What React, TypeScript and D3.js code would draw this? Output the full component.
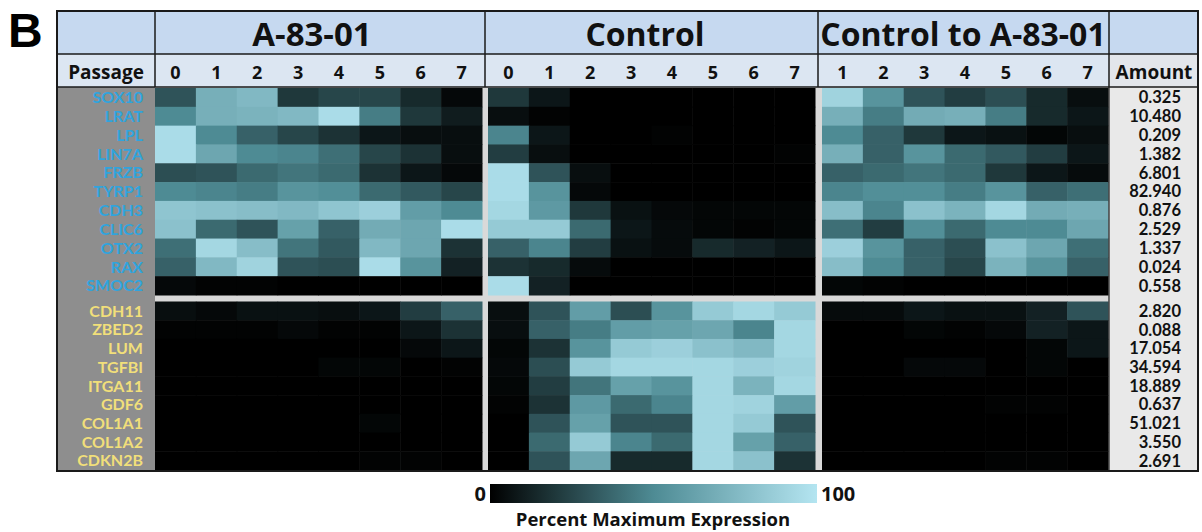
import React, { useEffect, useRef } from "react";
import * as d3 from "d3";

const passagesA = ["0", "1", "2", "3", "4", "5", "6", "7"];
const passagesC = ["0", "1", "2", "3", "4", "5", "6", "7"];
const passagesCA = ["1", "2", "3", "4", "5", "6", "7"];

const topGenes = ["SOX10", "LRAT", "LPL", "LIN7A", "FRZB", "TYRP1", "CDH3", "CLIC6", "OTX2", "RAX", "SMOC2"];
const bottomGenes = ["CDH11", "ZBED2", "LUM", "TGFBI", "ITGA11", "GDF6", "COL1A1", "COL1A2", "CDKN2B"];

const amountsTop = ["0.325", "10.480", "0.209", "1.382", "6.801", "82.940", "0.876", "2.529", "1.337", "0.024", "0.558"];
const amountsBottom = ["2.820", "0.088", "17.054", "34.594", "18.889", "0.637", "51.021", "3.550", "2.691"];

// percent maximum expression
const a8301Top = [
  [30, 70, 75, 20, 25, 25, 15, 3],
  [50, 70, 72, 75, 95, 45, 20, 10],
  [95, 50, 35, 25, 18, 8, 5, 5],
  [95, 65, 50, 48, 40, 25, 18, 5],
  [28, 30, 38, 42, 38, 18, 8, 3],
  [50, 48, 45, 55, 52, 38, 32, 25],
  [82, 80, 78, 75, 82, 88, 60, 50],
  [80, 38, 30, 62, 35, 68, 65, 95],
  [40, 92, 78, 42, 32, 75, 65, 18],
  [35, 75, 90, 30, 28, 95, 55, 12],
  [3, 1, 1, 0, 0, 0, 0, 0],
];
const controlTop = [
  [20, 8, 0, 0, 0, 0, 0, 0],
  [5, 1, 0, 0, 0, 0, 0, 0],
  [48, 8, 0, 0, 1, 0, 0, 0],
  [22, 5, 0, 0, 0, 0, 0, 1],
  [95, 30, 5, 0, 0, 0, 0, 0],
  [95, 55, 3, 0, 0, 0, 0, 0],
  [92, 58, 20, 6, 3, 2, 2, 2],
  [85, 85, 38, 8, 4, 2, 1, 2],
  [35, 48, 22, 6, 4, 15, 12, 8],
  [18, 15, 4, 0, 0, 0, 0, 0],
  [95, 12, 0, 0, 0, 0, 0, 0],
];
const ctoaTop = [
  [90, 55, 30, 22, 28, 15, 5],
  [70, 45, 68, 70, 45, 15, 8],
  [50, 35, 20, 8, 6, 2, 5],
  [70, 35, 55, 38, 32, 22, 8],
  [35, 38, 42, 38, 20, 8, 4],
  [48, 52, 52, 45, 55, 35, 40],
  [78, 48, 80, 72, 92, 68, 70],
  [40, 22, 52, 38, 50, 50, 65],
  [88, 55, 35, 28, 80, 65, 40],
  [78, 50, 35, 25, 72, 55, 35],
  [2, 1, 0, 0, 0, 0, 0],
];
const a8301Bottom = [
  [5, 3, 6, 6, 5, 8, 22, 35],
  [1, 1, 1, 3, 1, 1, 8, 18],
  [0, 0, 0, 0, 0, 0, 3, 8],
  [0, 0, 0, 0, 2, 2, 0, 1],
  [0, 0, 0, 0, 0, 0, 0, 0],
  [0, 0, 0, 0, 0, 0, 0, 0],
  [0, 0, 0, 0, 0, 2, 0, 0],
  [0, 0, 0, 0, 0, 0, 0, 0],
  [0, 0, 0, 0, 0, 1, 1, 0],
];
const controlBottom = [
  [5, 30, 60, 28, 55, 85, 92, 85],
  [5, 35, 45, 60, 62, 65, 48, 92],
  [2, 18, 55, 85, 88, 80, 75, 92],
  [3, 28, 85, 92, 92, 92, 88, 90],
  [2, 22, 42, 62, 55, 92, 72, 92],
  [1, 18, 58, 38, 48, 92, 90, 60],
  [0, 30, 62, 30, 30, 92, 85, 30],
  [0, 38, 85, 48, 38, 92, 62, 35],
  [0, 30, 65, 15, 15, 92, 80, 18],
];
const ctoaBottom = [
  [4, 4, 8, 6, 6, 12, 30],
  [0, 0, 2, 1, 3, 12, 8],
  [0, 0, 0, 0, 0, 2, 8],
  [0, 0, 3, 3, 0, 2, 0],
  [0, 0, 0, 0, 0, 0, 0],
  [0, 0, 0, 0, 1, 1, 0],
  [0, 0, 0, 0, 0, 0, 0],
  [0, 0, 0, 0, 0, 0, 0],
  [0, 0, 0, 0, 1, 1, 0],
];

const FONT = "'Open Sans', 'DejaVu Sans', sans-serif";
const BODY_FONT = "Lato, 'Open Sans', sans-serif";
const color = d3
  .scaleLinear<string>()
  .domain([0, 50, 100])
  .range(["#000000", "#4e8b94", "#b4e5f1"])
  .clamp(true);

export default function App() {
  const ref = useRef<SVGSVGElement>(null);

  useEffect(() => {
    const svg = d3.select(ref.current);
    svg.selectAll("*").remove();

    const left = 57, right = 1198, top = 11, bottom = 471;
    const h1 = 54, h2 = 87;
    const labelR = 155, amountL = 1109;

    svg.append("rect").attr("width", 1202).attr("height", 532).attr("fill", "#fff");

    svg.append("text").attr("x", 8).attr("y", 47)
      .attr("font-family", "'Liberation Sans', Arial, sans-serif")
      .attr("font-weight", "bold").attr("font-size", 48).text("B");

    // header backgrounds
    svg.append("rect").attr("x", left).attr("y", top).attr("width", right - left).attr("height", h1 - top).attr("fill", "#c6d9f0");
    svg.append("rect").attr("x", left).attr("y", h1).attr("width", right - left).attr("height", h2 - h1).attr("fill", "#dce6f2");
    svg.append("rect").attr("x", amountL).attr("y", h1).attr("width", right - amountL).attr("height", h2 - h1).attr("fill", "#e3e6eb");

    // body backgrounds
    svg.append("rect").attr("x", left).attr("y", h2).attr("width", right - left).attr("height", bottom - h2).attr("fill", "#d9d9d9");
    svg.append("rect").attr("x", left).attr("y", h2).attr("width", labelR - left).attr("height", bottom - h2).attr("fill", "#8e8e8e");
    svg.append("rect").attr("x", amountL).attr("y", h2).attr("width", right - amountL).attr("height", bottom - h2).attr("fill", "#e9e9e9");

    const blocks = [
      { title: "A-83-01", tx: 312, size: 33, cols: passagesA, x0: 155, x1: 482, top: a8301Top, bot: a8301Bottom },
      { title: "Control", tx: 645, size: 32, cols: passagesC, x0: 488, x1: 815, top: controlTop, bot: controlBottom },
      { title: "Control to A-83-01", tx: 963, size: 32, cols: passagesCA, x0: 822, x1: 1108, top: ctoaTop, bot: ctoaBottom },
    ];

    const yTop = d3.scaleBand().domain(topGenes).range([88, 295]);
    const yBot = d3.scaleBand().domain(bottomGenes).range([301.5, 470]);

    blocks.forEach((b) => {
      const x = d3.scaleBand().domain(b.cols).range([b.x0, b.x1]);
      const g = svg.append("g");
      const sections = [
        { genes: topGenes, y: yTop, vals: b.top },
        { genes: bottomGenes, y: yBot, vals: b.bot },
      ];
      sections.forEach((s) => {
        s.genes.forEach((gene, i) => {
          g.selectAll(null)
            .data(s.vals[i])
            .enter()
            .append("rect")
            .attr("x", (_, j) => x(b.cols[j])!)
            .attr("y", s.y(gene)!)
            .attr("width", x.bandwidth() + 0.5)
            .attr("height", s.y.bandwidth() + 0.5)
            .attr("fill", (v) => color(v));
        });
      });

      svg.append("text")
        .attr("x", b.tx).attr("y", 46)
        .attr("text-anchor", "middle")
        .attr("font-family", FONT).attr("font-weight", "bold").attr("font-size", b.size)
        .attr("fill", "#111").text(b.title);

      svg.append("g").selectAll("text").data(b.cols).enter().append("text")
        .attr("x", (d) => x(d)! + x.bandwidth() / 2).attr("y", 79)
        .attr("text-anchor", "middle")
        .attr("font-family", FONT).attr("font-weight", "bold").attr("font-size", 18)
        .attr("fill", "#111").text((d) => d);
    });

    svg.append("text").attr("x", 106).attr("y", 79).attr("text-anchor", "middle")
      .attr("font-family", FONT).attr("font-weight", "bold").attr("font-size", 19)
      .attr("fill", "#111").text("Passage");
    svg.append("text").attr("x", 1154).attr("y", 79).attr("text-anchor", "middle")
      .attr("font-family", FONT).attr("font-weight", "bold").attr("font-size", 19)
      .attr("fill", "#111").text("Amount");

    // gene labels
    const labels = svg.append("g").attr("font-family", BODY_FONT).attr("font-weight", "bold").attr("font-size", 16).attr("text-anchor", "end");
    labels.selectAll(".top").data(topGenes).enter().append("text")
      .attr("x", 143).attr("y", (d) => yTop(d)! + yTop.bandwidth() / 2).attr("dy", "0.36em")
      .attr("fill", "#30a4dd").text((d) => d);
    labels.selectAll(".bot").data(bottomGenes).enter().append("text")
      .attr("x", 143).attr("y", (d) => yBot(d)! + yBot.bandwidth() / 2).attr("dy", "0.36em")
      .attr("fill", "#f1df7a").text((d) => d);

    // amounts
    const amt = svg.append("g").attr("font-family", BODY_FONT).attr("font-weight", "bold").attr("font-size", 16.5).attr("text-anchor", "end").attr("fill", "#111");
    amt.selectAll(".top").data(amountsTop).enter().append("text")
      .attr("x", 1181).attr("y", (_, i) => yTop(topGenes[i])! + yTop.bandwidth() / 2).attr("dy", "0.36em").text((d) => d);
    amt.selectAll(".bot").data(amountsBottom).enter().append("text")
      .attr("x", 1181).attr("y", (_, i) => yBot(bottomGenes[i])! + yBot.bandwidth() / 2).attr("dy", "0.36em").text((d) => d);

    // grid lines
    const line = (x1: number, y1: number, x2: number, y2: number, w = 1.5) =>
      svg.append("line").attr("x1", x1).attr("y1", y1).attr("x2", x2).attr("y2", y2)
        .attr("stroke", "#1a1a1a").attr("stroke-width", w);
    line(left, h1, right, h1);
    line(left, h2, right, h2);
    [labelR, 485, 818, amountL].forEach((xv) => line(xv, top, xv, h2));
    line(amountL, h2, amountL, bottom, 1.2);
    svg.append("rect").attr("x", left).attr("y", top).attr("width", right - left).attr("height", bottom - top)
      .attr("fill", "none").attr("stroke", "#1a1a1a").attr("stroke-width", 2);

    // colour bar
    const defs = svg.append("defs");
    const grad = defs.append("linearGradient").attr("id", "pme");
    d3.range(0, 101, 10).forEach((p) =>
      grad.append("stop").attr("offset", `${p}%`).attr("stop-color", color(p)));
    const cb = d3.scaleLinear().domain([0, 100]).range([490, 817]);
    svg.append("rect").attr("x", cb(0)).attr("y", 484).attr("width", cb(100) - cb(0)).attr("height", 19)
      .attr("fill", "url(#pme)");
    const cbText = svg.append("g").attr("font-family", FONT).attr("font-weight", "bold").attr("fill", "#111");
    cbText.append("text").attr("x", cb(0) - 4).attr("y", 501).attr("text-anchor", "end").attr("font-size", 20).text("0");
    cbText.append("text").attr("x", cb(100) + 4).attr("y", 501).attr("font-size", 20).text("100");
    cbText.append("text").attr("x", 653).attr("y", 526).attr("text-anchor", "middle").attr("font-size", 18.5)
      .text("Percent Maximum Expression");
  }, []);

  return (
    <svg ref={ref} width={1202} height={532} style={{ position: "absolute", left: 0, top: 0 }} />
  );
}
